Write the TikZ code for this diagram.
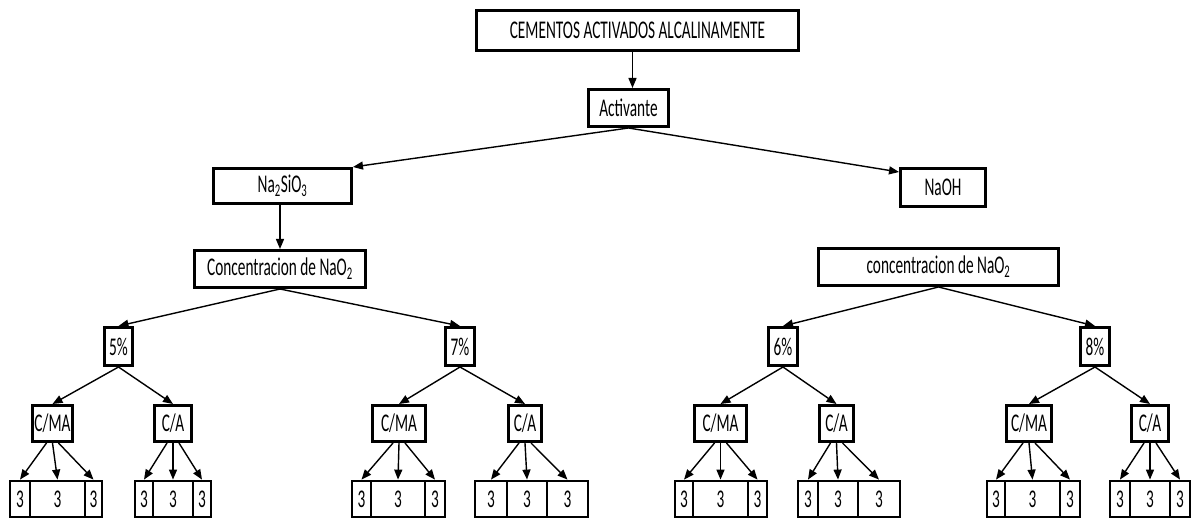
\documentclass[tikz,border=0pt]{standalone}
\usepackage{fontspec}
\setmainfont{Carlito}[FakeStretch=0.6]
\usetikzlibrary{arrows.meta}
\newcommand{\bx}[6]{\node[box, minimum width={#4-#2-2.8}, minimum height={#5-#3-2.8}] (#1) at ({(#2+#4)/2},{(#3+#5)/2}) {#6};}
\newcommand{\cellbx}[4]{\node[box, minimum width={#3-#2}, minimum height={36}] (#1) at ({(#2+#3)/2},499) {#4};}
\newcommand{\trio}[5]{\cellbx{#1a}{#2}{#3}{3}\cellbx{#1b}{#3}{#4}{3}\cellbx{#1c}{#4}{#5}{3}}
\newcommand{\fan}[2]{%
  \draw[arr] ([xshift=-6pt]#1.south) -- (#2a.north);
  \draw[arr] (#1.south) -- (#2b.north);
  \draw[arr] ([xshift=6pt]#1.south) -- (#2c.north);}
\begin{document}
\begin{tikzpicture}[x=1pt,y=-1pt,
  box/.style={draw, line width=2.8pt, inner sep=0pt, font=\fontsize{25.5}{27}\selectfont},
  arr/.style={line width=1.4pt, -{Triangle[length=10pt,width=8pt]}}]
\useasboundingbox[fill=white] (0,0) rectangle (1200,521);
% upper levels
\bx{title}{475}{9}{800}{52}{CEMENTOS ACTIVADOS ALCALINAMENTE}
\bx{act}{587}{88}{670}{128}{Activante}
\bx{na2}{212}{167}{353}{205}{Na\textsubscript{2}SiO\textsubscript{3}}
\bx{naoh}{899}{167}{987}{208}{NaOH}
\bx{concL}{193}{249}{367}{289}{Concentracion de NaO\textsubscript{2}}
\bx{concR}{817}{247}{1060}{287}{concentracion de NaO\textsubscript{2}}
\bx{p5}{103}{326}{134}{367}{5\%}
\bx{p7}{444}{326}{476}{367}{7\%}
\bx{p6}{767}{326}{799}{367}{6\%}
\bx{p8}{1079}{326}{1111}{367}{8\%}
% C/MA and C/A
\bx{cma1}{31}{404}{74}{443}{C/MA}
\bx{ca1}{153}{404}{193}{443}{C/A}
\bx{cma2}{371}{404}{427}{443}{C/MA}
\bx{ca2}{507}{404}{543}{443}{C/A}
\bx{cma3}{693}{404}{748}{443}{C/MA}
\bx{ca3}{818}{404}{855}{443}{C/A}
\bx{cma4}{1005}{404}{1053}{443}{C/MA}
\bx{ca4}{1130}{404}{1170}{443}{C/A}
% bottom cells
\trio{A}{10}{30}{85}{102}
\trio{B}{135}{153}{193}{211}
\trio{C}{352}{371}{425}{445}
\trio{D}{475}{507}{547}{588}
\trio{E}{675}{693}{748}{767}
\trio{F}{798}{818}{858}{900}
\trio{G}{987}{1005}{1060}{1080}
\trio{H}{1110}{1130}{1170}{1190}
% connectors
\draw[arr] ([xshift=4pt]act.north |- title.south) -- ([xshift=4pt]act.north);
\draw[arr] (act.south) -- (na2.north east);
\draw[arr] (act.south) -- ([yshift=-5pt]naoh.north west);
\draw[arr] (na2.south -| concL.north) -- (concL.north);
\draw[arr] (concL.south) -- (p5.north);
\draw[arr] (concL.south) -- (p7.north);
\draw[arr] (concR.south) -- (p6.north);
\draw[arr] (concR.south) -- (p8.north);
\draw[arr] (p5.south) -- (cma1.north);
\draw[arr] (p5.south) -- (ca1.north);
\draw[arr] (p7.south) -- (cma2.north);
\draw[arr] (p7.south) -- (ca2.north);
\draw[arr] (p6.south) -- (cma3.north);
\draw[arr] (p6.south) -- (ca3.north);
\draw[arr] (p8.south) -- (cma4.north);
\draw[arr] (p8.south) -- (ca4.north);
\fan{cma1}{A}
\fan{ca1}{B}
\fan{cma2}{C}
\fan{ca2}{D}
\fan{cma3}{E}
\fan{ca3}{F}
\fan{cma4}{G}
\fan{ca4}{H}
\end{tikzpicture}
\end{document}
